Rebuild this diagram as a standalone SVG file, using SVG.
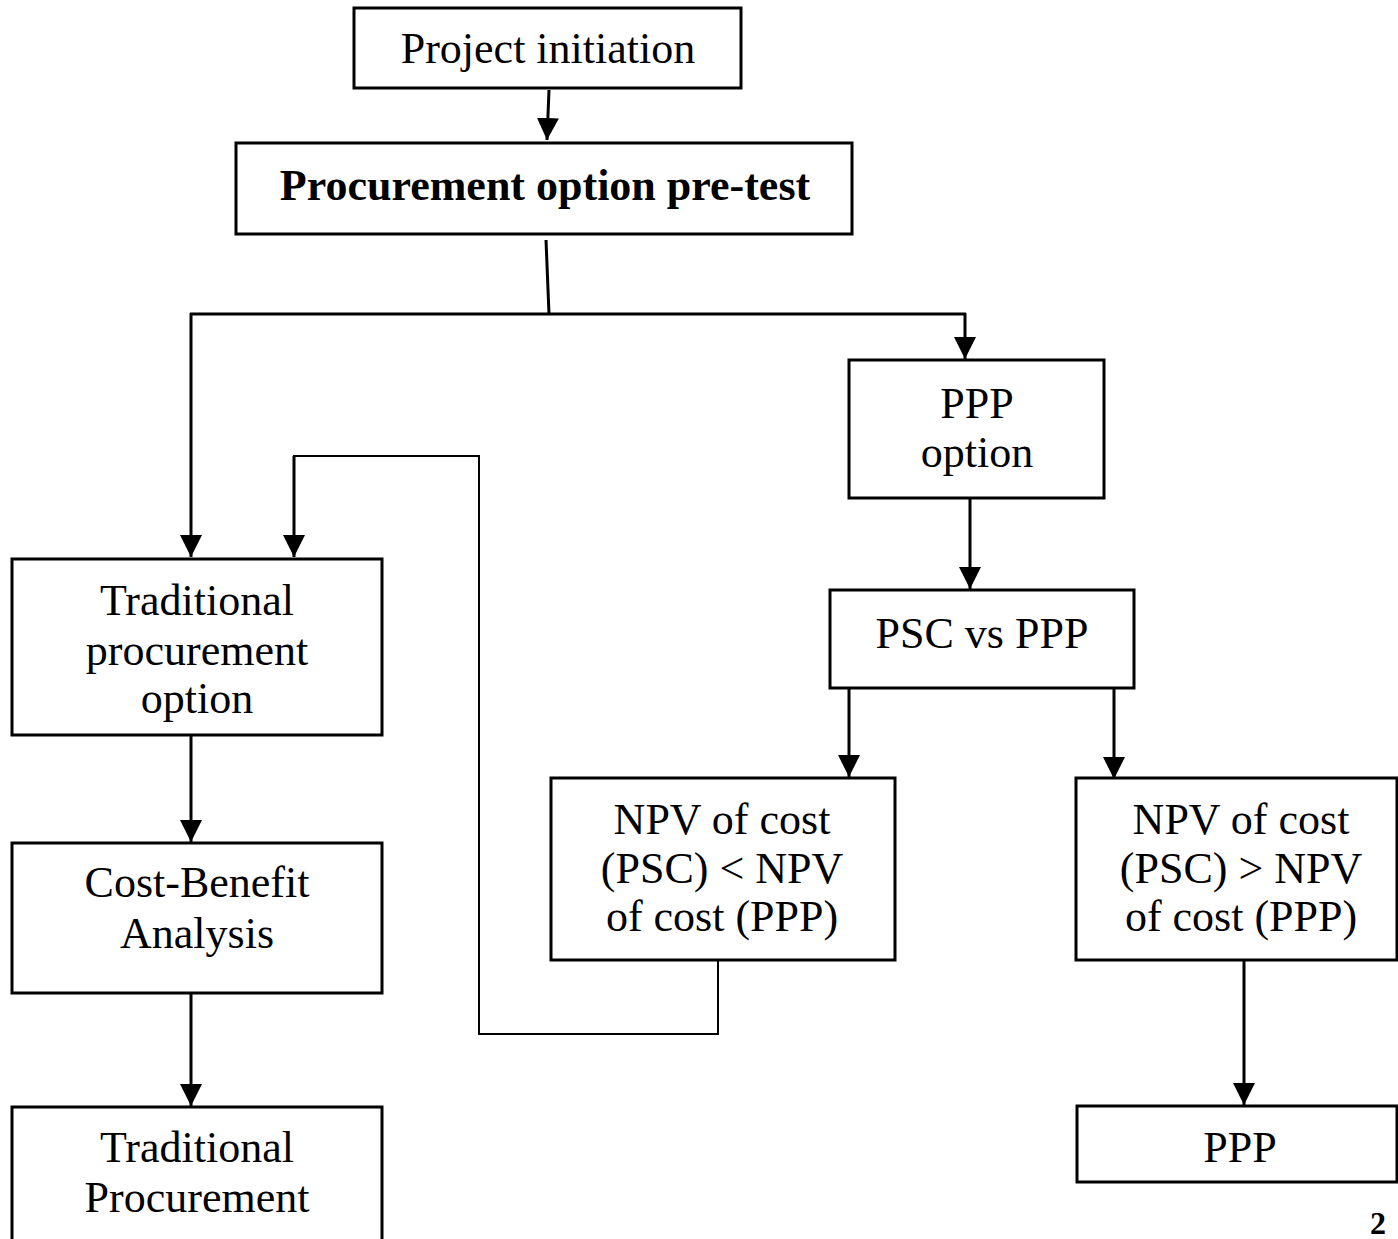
<svg xmlns="http://www.w3.org/2000/svg" width="1398" height="1239" viewBox="0 0 1398 1239">
<style>
.box{fill:#fff;stroke:#000;stroke-width:3}
.t{font-family:"Liberation Serif","Times New Roman",serif;font-size:44px;fill:#000;text-anchor:middle}
.b{font-weight:bold}
.c{fill:none;stroke:#000;stroke-width:3}
.thin{fill:none;stroke:#000;stroke-width:2}
</style>
<defs>
<marker id="ah" markerUnits="userSpaceOnUse" markerWidth="24" markerHeight="24" viewBox="0 0 24 22" refX="22" refY="11" orient="auto">
<path d="M0,0 L22,11 L0,22 Z" fill="#000"/>
</marker>
</defs>
<rect width="1398" height="1239" fill="#fff"/>
<g id="connectors">
<line class="c" x1="549" y1="90" x2="547" y2="140" marker-end="url(#ah)"/>
<polyline class="c" points="546,240 549,314"/>
<line class="c" x1="190" y1="314" x2="966" y2="314"/>
<line class="c" x1="191" y1="313" x2="191" y2="557" marker-end="url(#ah)"/>
<line class="c" x1="965" y1="313" x2="965" y2="359" marker-end="url(#ah)"/>
<line class="c" x1="970" y1="498" x2="970" y2="589" marker-end="url(#ah)"/>
<line class="c" x1="849" y1="688" x2="849" y2="777" marker-end="url(#ah)"/>
<line class="c" x1="1114" y1="688" x2="1114" y2="779" marker-end="url(#ah)"/>
<line class="c" x1="191" y1="735" x2="191" y2="842" marker-end="url(#ah)"/>
<line class="c" x1="191" y1="993" x2="191" y2="1106" marker-end="url(#ah)"/>
<line class="c" x1="1244" y1="960" x2="1244" y2="1105" marker-end="url(#ah)"/>
<polyline class="thin" points="718,960 718,1034 479,1034 479,456 294,456 294,470"/>
<line class="c" x1="294" y1="456" x2="294" y2="557" marker-end="url(#ah)"/>
</g>
<g id="project-initiation">
<rect class="box" x="354" y="8" width="387" height="80"/>
<text class="t" x="548" y="63">Project initiation</text>
</g>
<g id="pre-test">
<rect class="box" x="236" y="143" width="616" height="91"/>
<text class="t b" x="545" y="200">Procurement option pre-test</text>
</g>
<g id="ppp-option">
<rect class="box" x="849" y="360" width="255" height="138"/>
<text class="t" x="977" y="418">PPP</text>
<text class="t" x="977" y="467">option</text>
</g>
<g id="psc-vs-ppp">
<rect class="box" x="830" y="590" width="304" height="98"/>
<text class="t" x="982" y="648">PSC vs PPP</text>
</g>
<g id="traditional-option">
<rect class="box" x="12" y="559" width="370" height="176"/>
<text class="t" x="197" y="615">Traditional</text>
<text class="t" x="197" y="665">procurement</text>
<text class="t" x="197" y="713">option</text>
</g>
<g id="cost-benefit">
<rect class="box" x="12" y="843" width="370" height="150"/>
<text class="t" x="197" y="897">Cost-Benefit</text>
<text class="t" x="197" y="948">Analysis</text>
</g>
<g id="traditional-procurement">
<rect class="box" x="12" y="1107" width="370" height="160"/>
<text class="t" x="197" y="1162">Traditional</text>
<text class="t" x="197" y="1212">Procurement</text>
</g>
<g id="npv-less">
<rect class="box" x="551" y="778" width="344" height="182"/>
<text class="t" x="722" y="834">NPV of cost</text>
<text class="t" x="722" y="883">(PSC) &lt; NPV</text>
<text class="t" x="722" y="931">of cost (PPP)</text>
</g>
<g id="npv-greater">
<rect class="box" x="1076" y="778" width="321" height="182"/>
<text class="t" x="1241" y="834">NPV of cost</text>
<text class="t" x="1241" y="883">(PSC) &gt; NPV</text>
<text class="t" x="1241" y="931">of cost (PPP)</text>
</g>
<g id="ppp">
<rect class="box" x="1077" y="1106" width="320" height="76"/>
<text class="t" x="1240" y="1162">PPP</text>
</g>
<text x="1370" y="1234" style="font-family:'Liberation Serif',serif;font-size:32px;font-weight:bold;fill:#000">2</text>
</svg>
